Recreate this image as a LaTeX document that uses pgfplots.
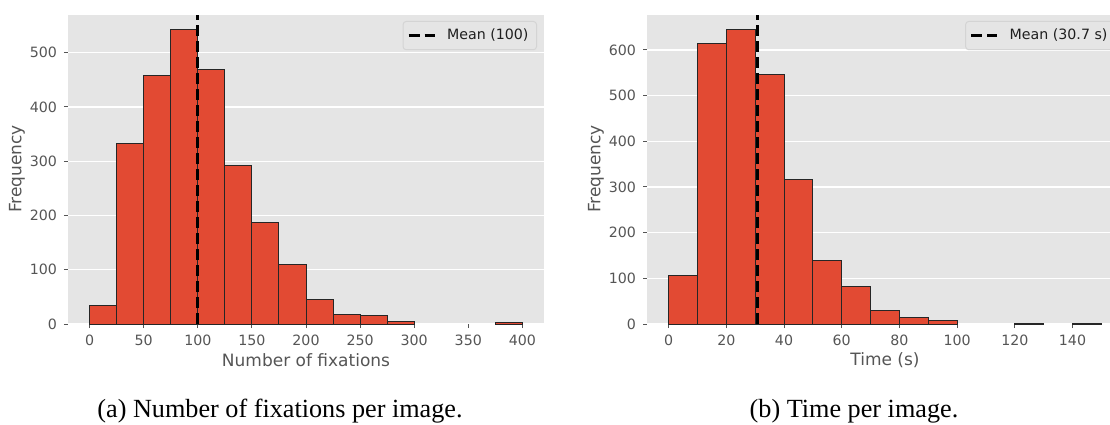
\documentclass[border=0pt]{standalone}
\usepackage{fontspec}
\setmainfont{DejaVu Sans}
\newfontfamily\capfont{Liberation Serif}
\usepackage{pgfplots}
\pgfplotsset{compat=1.18}
\definecolor{ggbg}{HTML}{E5E5E5}
\definecolor{ggred}{HTML}{E24A33}
\definecolor{gglab}{HTML}{555555}
\definecolor{legedge}{HTML}{D4D4D4}
\pgfplotsset{
  ggstyle/.style={
    scale only axis,
    width=238pt, height=154.7pt,
    anchor=south west,
    axis background/.style={fill=ggbg},
    axis line style={draw=none},
    ymajorgrids,
    grid style={white, line width=0.7pt},
    tick align=outside,
    xtick pos=lower, ytick pos=left,
    major tick length=2pt,
    tick style={gglab, line width=0.5pt},
    ticklabel style={font=\fontsize{7.1}{8.5}\selectfont, text=gglab},
    /pgf/number format/assume math mode=true,
    ymin=0,
    legend cell align=left,
    legend style={at={(1,1)}, anchor=north east, xshift=-3.5pt, yshift=-3.2pt,
      draw=legedge, fill=ggbg, rounded corners=1.5pt, line width=0.5pt,
      inner xsep=2pt, inner ysep=1.6pt,
      font=\fontsize{7.1}{8.5}\selectfont, text=black!88,
      /tikz/every odd column/.append style={column sep=3.5pt}},
    legend image code/.code={\draw[##1] (0pt,0pt) -- (13pt,0pt);},
  },
  barst/.style={ybar, bar width=#1, bar shift=0pt, fill=ggred, draw=black!85, line width=0.5pt, forget plot},
  meanst/.style={black, line width=1.5pt, dash pattern=on 5.5pt off 2.5pt},
}
\begin{document}
\begin{tikzpicture}
\useasboundingbox (0,0) rectangle (555pt,212pt);
\clip (0,0) rectangle (555pt,212pt);
% (a)
\begin{axis}[ggstyle, at={(34pt,50pt)},
  xmin=-20, xmax=420, ymax=570.15,
  xtick={0,50,...,400}, ytick={0,100,...,500}]
\addplot[barst=25] coordinates {
 (12.5,34) (37.5,332) (62.5,458) (87.5,543) (112.5,469) (137.5,292)
 (162.5,187) (187.5,109) (212.5,45) (237.5,17) (262.5,15) (287.5,4)
 (387.5,2)};
\addplot[meanst] coordinates {(100,0) (100,570.15)};
\addlegendentry{Mean (100)}
\end{axis}
% (b)
\begin{axis}[ggstyle, at={(323.5pt,50pt)},
  xmin=-7.5, xmax=157.5, ymax=677.25,
  xtick={0,20,...,140}, ytick={0,100,...,600}]
\addplot[barst=10] coordinates {
 (5,106) (15,613) (25,645) (35,547) (45,317) (55,140) (65,82)
 (75,29) (85,14) (95,8) (125,1) (145,1)};
\addplot[meanst] coordinates {(30.7,0) (30.7,677.25)};
\addlegendentry{Mean (30.7 s)}
\end{axis}
% axis labels
\node[rotate=90, text=gglab, font=\fontsize{8.5}{10}\selectfont] at (8.5pt,127.5pt) {Frequency};
\node[rotate=90, text=gglab, font=\fontsize{8.5}{10}\selectfont] at (298pt,127.5pt) {Frequency};
\node[text=gglab, font=\fontsize{8.5}{10}\selectfont] at (153pt,32pt) {Number of fixations};
\node[text=gglab, font=\fontsize{8.5}{10}\selectfont] at (442.5pt,32pt) {Time (s)};
% captions
\node[anchor=base, inner sep=0pt, font=\capfont\fontsize{13.1}{15}\selectfont] at (140pt,3.5pt) {(a) Number of fixations per image.};
\node[anchor=base, inner sep=0pt, font=\capfont\fontsize{13.1}{15}\selectfont] at (427pt,3.5pt) {(b) Time per image.};
\end{tikzpicture}
\end{document}
